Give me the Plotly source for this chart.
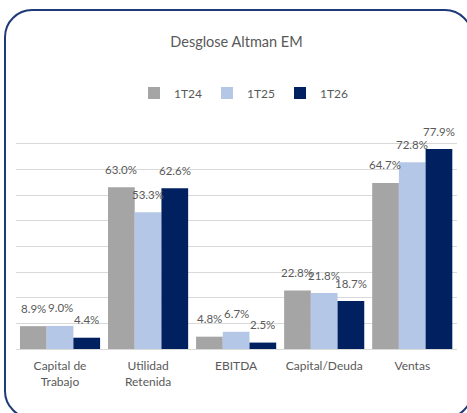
import plotly.graph_objects as go

# data
categories = ["Capital de<br>Trabajo", "Utilidad<br>Retenida", "EBITDA", "Capital/Deuda", "Ventas"]
periods = ["1T24", "1T25", "1T26"]
v_1t24 = [8.9, 63.0, 4.8, 22.8, 64.7]
v_1t25 = [9.0, 53.3, 6.7, 21.8, 72.8]
v_1t26 = [4.4, 62.6, 2.5, 18.7, 77.9]
series = [v_1t24, v_1t25, v_1t26]
colors = ["#A5A5A5", "#B4C7E7", "#002060"]

W, H = 467, 413
L, R, T, B = 16, 10, 118, 64
pw, ph = W - L - R, H - T - B
FONT = "Lato"
TXT = "#595959"


def px(x):
    return (x - L) / pw


def py(y):
    return (H - B - y) / ph


fig = go.Figure()
for name, vals, col in zip(periods, series, colors):
    fig.add_trace(go.Bar(x=categories, y=vals, name=name, marker=dict(color=col, line=dict(width=0)),
                         hovertemplate="%{y:.1f}%<extra>" + name + "</extra>"))

# data labels, centred above each bar
bw = pw / len(categories) * 0.91 / 3
for i, vals in enumerate(series):
    for c, v in zip(categories, vals):
        fig.add_annotation(x=c, y=v, text=f"{v:.1f}%", showarrow=False,
                           xshift=(i - 1) * bw, yshift=18, yanchor="middle",
                           font=dict(family=FONT, size=11.5, color=TXT))

# rounded border
x0, x1, y0, y1, r = 5, 472, 10, 418, 27
k = 0.45
path = (f"M {px(x0 + r)},{py(y0)} L {px(x1 - r)},{py(y0)} "
        f"C {px(x1 - r * k)},{py(y0)} {px(x1)},{py(y0 + r * k)} {px(x1)},{py(y0 + r)} "
        f"L {px(x1)},{py(y1 - r)} "
        f"C {px(x1)},{py(y1 - r * k)} {px(x1 - r * k)},{py(y1)} {px(x1 - r)},{py(y1)} "
        f"L {px(x0 + r)},{py(y1)} "
        f"C {px(x0 + r * k)},{py(y1)} {px(x0)},{py(y1 - r * k)} {px(x0)},{py(y1 - r)} "
        f"L {px(x0)},{py(y0 + r)} "
        f"C {px(x0)},{py(y0 + r * k)} {px(x0 + r * k)},{py(y0)} {px(x0 + r)},{py(y0)} Z")
fig.add_shape(type="path", path=path, xref="paper", yref="paper",
              line=dict(color="#1F3A78", width=2), layer="above")

fig.update_layout(
    width=W, height=H,
    margin=dict(l=L, r=R, t=T, b=B),
    title=dict(text="Desglose Altman EM", x=0.5, xref="paper", xanchor="center",
               y=1 - 42 / H, yanchor="middle", font=dict(family=FONT, size=14.5, color=TXT)),
    barmode="group", bargap=0.09, bargroupgap=0,
    plot_bgcolor="white", paper_bgcolor="white",
    font=dict(family=FONT, size=12, color=TXT),
    showlegend=True,
    legend=dict(orientation="h", x=px(244), xanchor="center", y=py(93), yanchor="middle",
                font=dict(family=FONT, size=12, color=TXT), itemwidth=30,
                traceorder="normal"),
    xaxis=dict(showline=True, linecolor="#D9D9D9", linewidth=1, ticks="",
               tickfont=dict(family=FONT, size=12, color=TXT), ticklabelstandoff=6,
               fixedrange=True),
    yaxis=dict(range=[0, 90], dtick=10, showgrid=True, gridcolor="#D9D9D9", gridwidth=1,
               showticklabels=False, zeroline=False, fixedrange=True),
)

# drop the default body margin so the chart sits at the page corner
fig.write_html("out.html", config={"displayModeBar": False},
               post_script="document.body.style.margin='0';")
